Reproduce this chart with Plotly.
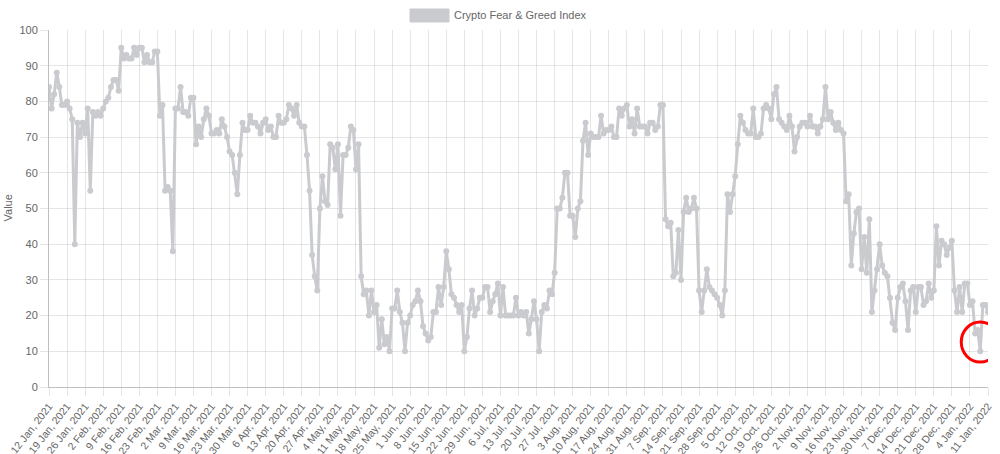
import pandas as pd
import plotly.graph_objects as go

series_name = "Crypto Fear & Greed Index"
start_date = "2021-01-12"

fear_greed_values = [
    84, 78, 82, 88, 84, 79, 79, 80, 78, 75,
    40, 74, 70, 74, 71, 78, 55, 77, 76, 77,
    76, 78, 80, 81, 84, 86, 86, 83, 95, 92,
    93, 92, 92, 95, 93, 95, 95, 91, 93, 91,
    91, 94, 94, 76, 79, 55, 56, 55, 38, 78,
    78, 84, 77, 77, 76, 81, 81, 68, 73, 70,
    75, 78, 76, 71, 71, 72, 71, 75, 73, 70,
    66, 65, 60, 54, 65, 74, 72, 72, 76, 74,
    74, 73, 71, 74, 75, 72, 73, 70, 70, 76,
    74, 74, 75, 79, 78, 76, 79, 74, 73, 73,
    65, 55, 37, 31, 27, 50, 59, 52, 51, 68,
    67, 61, 68, 48, 65, 65, 67, 73, 72, 61,
    68, 31, 26, 27, 20, 27, 21, 23, 11, 19,
    12, 14, 10, 22, 22, 27, 21, 18, 10, 18,
    20, 23, 24, 27, 24, 17, 15, 13, 14, 21,
    21, 28, 23, 28, 38, 33, 26, 25, 23, 21,
    23, 10, 14, 22, 27, 20, 22, 25, 25, 28,
    28, 21, 24, 26, 29, 20, 28, 20, 20, 20,
    20, 25, 20, 21, 20, 21, 15, 19, 24, 19,
    10, 21, 23, 22, 27, 26, 32, 50, 50, 53,
    60, 60, 48, 48, 42, 50, 52, 69, 74, 65,
    71, 70, 70, 70, 76, 71, 72, 72, 73, 70,
    70, 78, 76, 78, 79, 73, 75, 71, 78, 73,
    73, 73, 71, 74, 74, 72, 73, 79, 79, 47,
    45, 46, 31, 32, 44, 30, 49, 53, 49, 50,
    53, 50, 27, 21, 27, 33, 28, 27, 26, 25,
    23, 20, 27, 54, 49, 54, 59, 68, 76, 74,
    72, 71, 71, 78, 70, 70, 71, 78, 79, 78,
    75, 82, 84, 75, 74, 73, 72, 76, 73, 66,
    70, 73, 74, 74, 73, 76, 73, 73, 71, 73,
    75, 84, 75, 77, 74, 72, 74, 72, 71, 52,
    54, 34, 43, 49, 50, 33, 42, 32, 47, 21,
    27, 33, 40, 34, 32, 31, 25, 18, 16, 25,
    28, 29, 24, 16, 27, 28, 21, 28, 28, 23,
    24, 29, 25, 27, 45, 34, 41, 40, 37, 39,
    41, 27, 21, 28, 21, 29, 29, 23, 24, 15,
    16, 10, 23, 23, 21,
]

dates = pd.date_range(start_date, periods=len(fear_greed_values), freq="D")
date_labels = [f"{d.day} {d.strftime('%b')}, {d.year}" for d in dates]
day_index = list(range(len(fear_greed_values)))
tick_positions = day_index[::7]
tick_labels = date_labels[::7]
y_ticks = list(range(0, 101, 10))

highlight_day = 361
highlight_value = 12.6

grey = "rgb(201,203,207)"
text_grey = "#666666"
font_family = "Liberation Sans, Arial, Helvetica, sans-serif"

fig = go.Figure()
fig.add_trace(go.Scatter(
    x=day_index, y=fear_greed_values, mode="lines+markers", name=series_name,
    customdata=date_labels,
    hovertemplate="%{customdata}: %{y}<extra></extra>",
    line=dict(color=grey, width=3),
    marker=dict(color=grey, size=6),
    showlegend=False,
))

fig.update_layout(
    width=1000, height=454,
    margin=dict(l=49, r=12, t=30, b=67),
    paper_bgcolor="white", plot_bgcolor="white",
    font=dict(family=font_family, size=11, color=text_grey),
    xaxis=dict(
        range=[-0.0001, len(fear_greed_values) - 1 + 0.0001],
        tickmode="array", tickvals=tick_positions, ticktext=tick_labels,
        tickangle=-52, automargin=False, ticklabeloverflow="allow",
        showgrid=True, gridcolor="rgba(0,0,0,0.1)", gridwidth=1,
        showline=True, linecolor="rgba(0,0,0,0.25)", linewidth=1,
        ticks="outside", ticklen=8, tickcolor="rgba(0,0,0,0.1)",
        tickfont=dict(size=10.5, color=text_grey),
        zeroline=False,
    ),
    yaxis=dict(
        range=[0, 100], automargin=False,
        tickmode="array", tickvals=y_ticks,
        showgrid=True, gridcolor="rgba(0,0,0,0.1)", gridwidth=1,
        showline=True, linecolor="rgba(0,0,0,0.25)", linewidth=1,
        ticks="outside", ticklen=8, tickcolor="rgba(0,0,0,0.1)",
        tickfont=dict(size=11, color=text_grey),
        zeroline=False,
    ),
    shapes=[
        dict(type="rect", xref="paper", yref="paper",
             x0=(410 - 49) / 939, x1=(449 - 49) / 939,
             y0=(387 - 22) / 357, y1=(387 - 9) / 357,
             fillcolor=grey, line=dict(color=grey, width=1)),
        dict(type="circle", xref="x", yref="y",
             xsizemode="pixel", ysizemode="pixel",
             xanchor=highlight_day, yanchor=highlight_value,
             x0=-19, x1=19, y0=-20, y1=20,
             line=dict(color="red", width=3)),
    ],
    annotations=[
        dict(text=series_name, xref="paper", yref="paper",
             x=(452 - 49) / 939, y=(387 - 15.5) / 357,
             xanchor="left", yanchor="middle", showarrow=False,
             font=dict(size=11, color=text_grey)),
        dict(text="Value", xref="paper", yref="paper",
             x=(7 - 49) / 939, y=0.5, textangle=-90,
             xanchor="center", yanchor="middle", showarrow=False,
             font=dict(size=11, color=text_grey)),
    ],
)

fig.write_html(
    "out.html",
    config={"displayModeBar": False},
    post_script="document.body.style.margin='0';document.body.style.overflow='hidden';",
)
